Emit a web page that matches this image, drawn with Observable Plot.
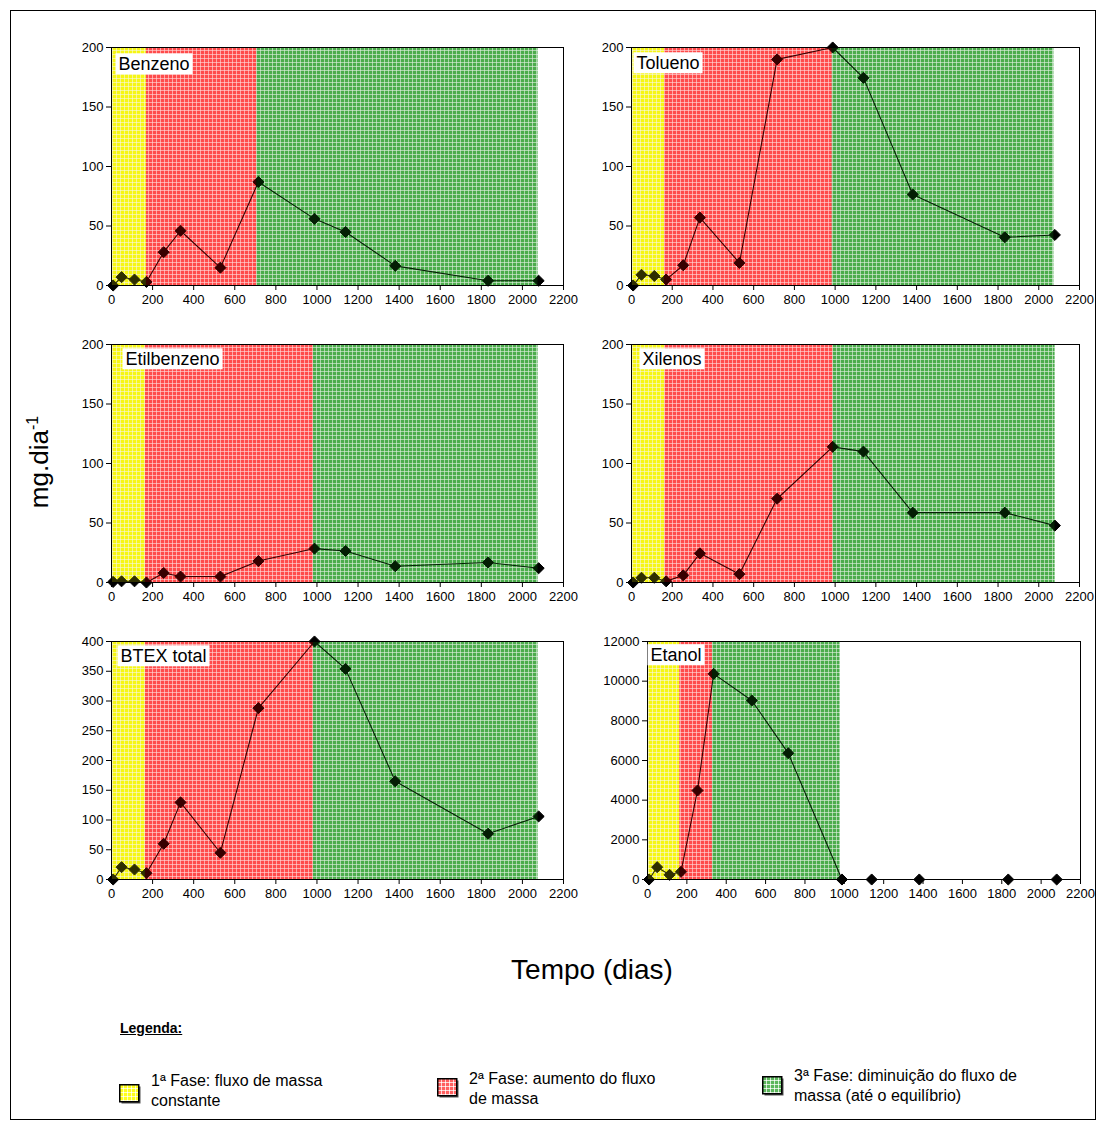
<!DOCTYPE html>
<html><head><meta charset="utf-8">
<script src="https://cdn.jsdelivr.net/npm/d3@7"></script>
<script src="https://cdn.jsdelivr.net/npm/@observablehq/plot@0.6"></script>
<style>
body{margin:0;background:#fff;font-family:Arial,"Liberation Sans",sans-serif;color:#000;}
#root{position:relative;width:1099px;height:1130px;overflow:hidden;}
.border{position:absolute;left:10px;top:10px;width:1086px;height:1110px;border:1px solid #000;box-sizing:border-box;}
.ytitle{position:absolute;left:39px;top:462px;transform:translate(-50%,-50%) rotate(-90deg);font-size:26px;white-space:nowrap;}
.xtitle{position:absolute;left:592px;top:970px;transform:translate(-50%,-50%);font-size:28px;white-space:nowrap;}
.legtitle{position:absolute;left:120px;top:1020px;font-size:14px;font-weight:bold;text-decoration:underline;}
.legtext{position:absolute;font-size:16px;line-height:20px;white-space:nowrap;}
</style></head><body>
<svg width="0" height="0" style="position:absolute">
<defs>
<pattern id="pat-y" width="4" height="4" patternUnits="userSpaceOnUse">
<rect width="4" height="4" fill="#ffff1a"/><rect width="4" height="1" fill="#ffffb8"/><rect width="1" height="4" fill="#ffffb8"/><rect width="1" height="1" fill="#ffffff"/>
</pattern>
<pattern id="pat-r" width="4" height="4" patternUnits="userSpaceOnUse">
<rect width="4" height="4" fill="#ff6060"/><rect width="4" height="1" fill="#ffd4d4"/><rect width="1" height="4" fill="#ffd4d4"/><rect width="1" height="1" fill="#ffffff"/>
</pattern>
<pattern id="pat-g" width="4" height="4" patternUnits="userSpaceOnUse">
<rect width="4" height="4" fill="#5cb65c"/><rect width="4" height="1" fill="#d2ecd2"/><rect width="1" height="4" fill="#d2ecd2"/><rect width="1" height="1" fill="#ffffff"/>
</pattern>
</defs></svg>
<div id="root"></div>
<script>
// ---- data ----
const days = [8, 49, 112, 170, 254, 336, 530, 715, 988, 1139, 1381, 1833, 2079];
const benzeno = [0, 7, 5, 3, 28, 46, 15, 87, 56, 45, 16.5, 4, 4];
const tolueno = [0, 9, 8, 5, 17, 57, 19, 190, 200, 174.5, 76.5, 40.5, 42.5];
const etilbenzeno = [0.5, 1, 1, 0, 8, 5, 5, 18, 28.5, 26.5, 13.7, 16.8, 12];
const xilenos = [0, 4, 4, 1, 6, 24.5, 7, 70.4, 114, 110, 58.7, 58.7, 47.8];
const btexTotal = [0, 20.7, 16.8, 10.6, 60, 129.6, 45, 288, 400, 354, 165, 77, 106];
const etanol = [0, 622, 235, 387, 4487, 10370, 9025, 6370, 0, 0, 0, 0, 0];

const phasesBenzeno = [[0, 170], [170, 707], [707, 2076]];
const phasesTolueno = [[0, 162], [162, 986], [986, 2074]];
const phasesEtil = [[0, 165], [165, 983], [983, 2076]];
const phasesXil = [[0, 164], [164, 990], [990, 2080]];
const phasesBtex = [[0, 165], [165, 983], [983, 2076]];
const phasesEtanol = [[0, 164], [164, 330], [330, 978]];

const xTicks = [0, 200, 400, 600, 800, 1000, 1200, 1400, 1600, 1800, 2000, 2200];
const yTicks200 = [0, 50, 100, 150, 200];
const yTicks400 = [0, 50, 100, 150, 200, 250, 300, 350, 400];
const yTicks12000 = [0, 2000, 4000, 6000, 8000, 10000, 12000];
const phaseFills = ["url(#pat-y)", "url(#pat-r)", "url(#pat-g)"];
const phaseTints = ["#d8d800", "#ff0000", "#108a10"];
const legendLabels = [
  ["1ª Fase: fluxo de massa", "constante"],
  ["2ª Fase: aumento do fluxo", "de massa"],
  ["3ª Fase: diminuição do fluxo de", "massa (até o equilíbrio)"]
];

const panels = [
  {name: "Benzeno", values: benzeno, phases: phasesBenzeno, yTicks: yTicks200, left: 60, top: 30, width: 520, ml: 51, mr: 17, dx: 7, dy: 8},
  {name: "Tolueno", values: tolueno, phases: phasesTolueno, yTicks: yTicks200, left: 580, top: 30, width: 519, ml: 51, mr: 20, dx: 5, dy: 7},
  {name: "Etilbenzeno", values: etilbenzeno, phases: phasesEtil, yTicks: yTicks200, left: 60, top: 327, width: 520, ml: 51, mr: 17, dx: 14, dy: 6},
  {name: "Xilenos", values: xilenos, phases: phasesXil, yTicks: yTicks200, left: 580, top: 327, width: 519, ml: 51, mr: 20, dx: 11, dy: 6},
  {name: "BTEX total", values: btexTotal, phases: phasesBtex, yTicks: yTicks400, left: 60, top: 624, width: 520, ml: 51, mr: 17, dx: 9, dy: 6},
  {name: "Etanol", values: etanol, phases: phasesEtanol, yTicks: yTicks12000, left: 580, top: 624, width: 519, ml: 67, mr: 19, dx: 3, dy: 5}
];

const root = document.getElementById("root");
const border = document.createElement("div"); border.className = "border"; root.appendChild(border);

for (const p of panels) {
  const data = days.map((d, i) => ({day: d, v: p.values[i]}));
  const yMax = p.yTicks[p.yTicks.length - 1];
  const ph = p.phases.map((r, i) => ({x1: r[0], x2: r[1], y1: 0, y2: yMax, fill: phaseFills[i], tint: phaseTints[i]}));
  const chart = Plot.plot({
    width: p.width, height: 290,
    marginLeft: p.ml, marginRight: p.mr, marginTop: 17, marginBottom: 35,
    x: {domain: [0, 2200], ticks: xTicks, tickSize: 5, tickPadding: 4, tickFormat: d => String(d), label: null},
    y: {domain: [0, yMax], ticks: p.yTicks, tickSize: 5, tickPadding: 3, tickFormat: d => String(d), label: null},
    color: {type: "identity"},
    style: {fontFamily: "Arial, 'Liberation Sans', sans-serif", fontSize: "13px", color: "#000", background: "transparent", overflow: "visible"},
    marks: [
      Plot.rect(ph, {x1: "x1", x2: "x2", y1: "y1", y2: "y2", fill: "fill"}),
      Plot.line(data, {x: "day", y: "v", stroke: "#000", strokeWidth: 1.1}),
      Plot.dot(data, {x: "day", y: "v", symbol: "diamond2", r: 5, fill: "#000", stroke: "#000", strokeWidth: 1}),
      Plot.rect(ph, {x1: "x1", x2: "x2", y1: "y1", y2: "y2", fill: "tint", fillOpacity: 0.22}),
      Plot.frame({stroke: "#000", strokeWidth: 1}),
      Plot.text([p.name], {frameAnchor: "top-left", text: d => d, dx: p.dx, dy: p.dy + 2, textAnchor: "start", lineAnchor: "top", fontSize: 18, fill: "#000", className: "plabel"})
    ]
  });
  chart.style.position = "absolute";
  chart.style.left = p.left + "px";
  chart.style.top = p.top + "px";
  root.appendChild(chart);
  chart.querySelectorAll("g.plabel text").forEach(t => {
    const b = t.getBBox();
    const r = document.createElementNS("http://www.w3.org/2000/svg", "rect");
    r.setAttribute("x", b.x - 3); r.setAttribute("y", b.y - 1);
    r.setAttribute("width", b.width + 6); r.setAttribute("height", b.height + 1);
    r.setAttribute("fill", "#fff");
    const tr = t.getAttribute("transform");
    if (tr) r.setAttribute("transform", tr);
    t.parentNode.insertBefore(r, t);
  });
}

// titles
const yt = document.createElement("div"); yt.className = "ytitle";
yt.innerHTML = "mg.dia<sup style='font-size:16px'>-1</sup>"; root.appendChild(yt);
const xt = document.createElement("div"); xt.className = "xtitle"; xt.textContent = "Tempo (dias)"; root.appendChild(xt);
const lt = document.createElement("div"); lt.className = "legtitle"; lt.textContent = "Legenda:"; root.appendChild(lt);

// legend
const legPos = [
  {sx: 119, sy: 1084, tx: 151, ty: 1071},
  {sx: 437, sy: 1078, tx: 469, ty: 1069},
  {sx: 762, sy: 1076, tx: 794, ty: 1066}
];
legPos.forEach((lp, i) => {
  const s = document.createElementNS("http://www.w3.org/2000/svg", "svg");
  s.setAttribute("width", 24); s.setAttribute("height", 22);
  s.style.position = "absolute"; s.style.left = lp.sx + "px"; s.style.top = lp.sy + "px";
  s.innerHTML = `<rect x="2.5" y="2.5" width="19" height="17" fill="#555"/><rect x="0.75" y="0.75" width="19" height="17" fill="${phaseFills[i]}" stroke="#000" stroke-width="1.5"/>`;
  root.appendChild(s);
  const t = document.createElement("div"); t.className = "legtext";
  t.style.left = lp.tx + "px"; t.style.top = lp.ty + "px";
  t.innerHTML = legendLabels[i][0] + "<br>" + legendLabels[i][1];
  root.appendChild(t);
});
</script>
</body></html>
